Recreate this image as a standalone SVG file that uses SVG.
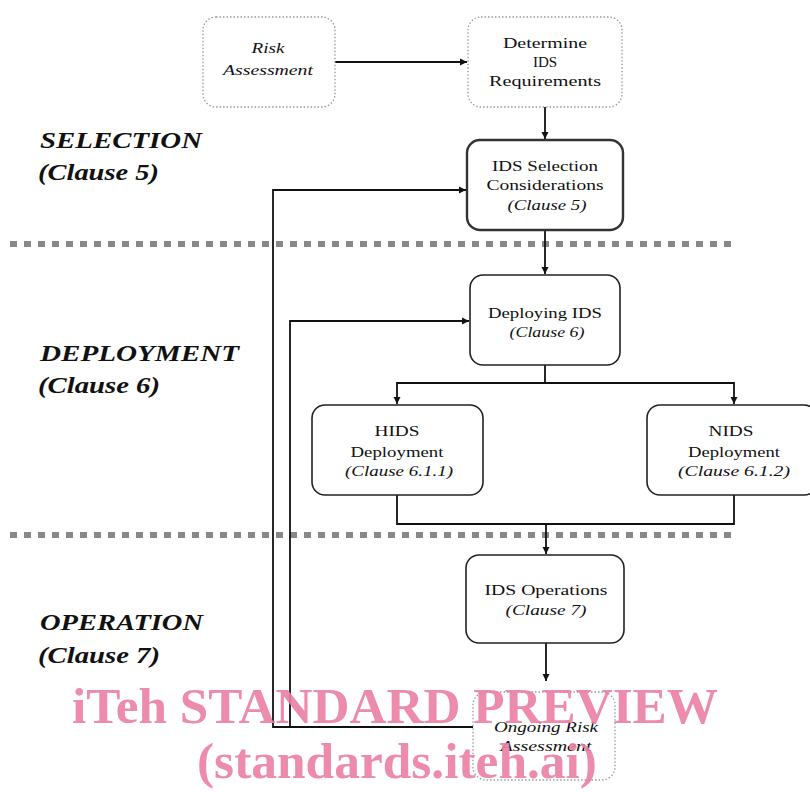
<svg xmlns="http://www.w3.org/2000/svg" width="810" height="792" viewBox="0 0 810 792">
<style>
.box{fill:#fff;stroke:#222;stroke-width:1.6}
.dot{fill:#fff;stroke:#999;stroke-width:1.3;stroke-dasharray:1.5 2}
.t{font-family:"Liberation Serif",serif;font-size:15px;fill:#111;text-anchor:middle}
.i{font-style:italic;font-size:14px}
.c{fill:none;stroke:#111;stroke-width:1.8}
.sep{stroke:#888;stroke-width:6;stroke-dasharray:7 7}
.lab{font-family:"Liberation Serif",serif;font-size:23px;font-weight:bold;font-style:italic;fill:#111}
.wm{font-family:"Liberation Serif",serif;font-size:51px;font-weight:bold;fill:#ea7fa3;opacity:0.9;text-anchor:middle}
</style>
<defs>
<marker id="a" viewBox="0 0 10 10" refX="10" refY="5" markerWidth="7" markerHeight="8" markerUnits="userSpaceOnUse" orient="auto"><path d="M0,0L10,5L0,10z" fill="#111"/></marker>
</defs>
<g id="separators">
<line class="sep" x1="10" y1="244" x2="731" y2="244"/>
<line class="sep" x1="10" y1="535" x2="731" y2="535"/>
</g>
<g id="labels">
<text class="lab" x="40" y="148" textLength="162" lengthAdjust="spacingAndGlyphs">SELECTION</text>
<text class="lab" x="38" y="180" textLength="121" lengthAdjust="spacingAndGlyphs">(Clause 5)</text>
<text class="lab" x="40" y="361" textLength="199" lengthAdjust="spacingAndGlyphs">DEPLOYMENT</text>
<text class="lab" x="38" y="393" textLength="122" lengthAdjust="spacingAndGlyphs">(Clause 6)</text>
<text class="lab" x="40" y="630" textLength="163" lengthAdjust="spacingAndGlyphs">OPERATION</text>
<text class="lab" x="38" y="663" textLength="122" lengthAdjust="spacingAndGlyphs">(Clause 7)</text>
</g>
<g id="connectors">
<path class="c" d="M335,62H467" marker-end="url(#a)"/>
<path class="c" d="M545,107V139" marker-end="url(#a)"/>
<path class="c" d="M545,230V274" marker-end="url(#a)"/>
<path class="c" d="M545,365V383H397V404" marker-end="url(#a)"/>
<path class="c" d="M545,383H734V404" marker-end="url(#a)"/>
<path class="c" d="M397,495V524H734V495"/>
<path class="c" d="M546,524V554" marker-end="url(#a)"/>
<path class="c" d="M546,643V681" marker-end="url(#a)"/>
<path class="c" d="M473,727H273V190H466" marker-end="url(#a)"/>
<path class="c" d="M290,727V321H469" marker-end="url(#a)"/>
</g>
<g id="risk">
<rect class="dot" x="203" y="17" width="132" height="90" rx="13"/>
<text class="t i" x="268" y="53" textLength="33" lengthAdjust="spacingAndGlyphs">Risk</text>
<text class="t i" x="268" y="75" textLength="90" lengthAdjust="spacingAndGlyphs">Assessment</text>
</g>
<g id="determine">
<rect class="dot" x="468" y="17" width="154" height="90" rx="13"/>
<text class="t" x="545" y="48" textLength="84" lengthAdjust="spacingAndGlyphs">Determine</text>
<text class="t" x="545" y="67">IDS</text>
<text class="t" x="545" y="86" textLength="112" lengthAdjust="spacingAndGlyphs">Requirements</text>
</g>
<g id="selection">
<rect class="box" x="467" y="140" width="156" height="90" rx="13" style="stroke-width:2.4;stroke:#333"/>
<text class="t" x="545" y="171" textLength="106" lengthAdjust="spacingAndGlyphs">IDS Selection</text>
<text class="t" x="545" y="190" textLength="117" lengthAdjust="spacingAndGlyphs">Considerations</text>
<text class="t i" x="547" y="210" textLength="79" lengthAdjust="spacingAndGlyphs">(Clause 5)</text>
</g>
<g id="deploying">
<rect class="box" x="470" y="275" width="150" height="90" rx="13"/>
<text class="t" x="545" y="318" textLength="114" lengthAdjust="spacingAndGlyphs">Deploying IDS</text>
<text class="t i" x="547" y="337" textLength="75" lengthAdjust="spacingAndGlyphs">(Clause 6)</text>
</g>
<g id="hids">
<rect class="box" x="312" y="405" width="171" height="90" rx="13"/>
<text class="t" x="397" y="436" textLength="45" lengthAdjust="spacingAndGlyphs">HIDS</text>
<text class="t" x="397" y="457" textLength="93" lengthAdjust="spacingAndGlyphs">Deployment</text>
<text class="t i" x="399" y="476" textLength="108" lengthAdjust="spacingAndGlyphs">(Clause 6.1.1)</text>
</g>
<g id="nids">
<rect class="box" x="647" y="405" width="170" height="90" rx="13"/>
<text class="t" x="731" y="436" textLength="45" lengthAdjust="spacingAndGlyphs">NIDS</text>
<text class="t" x="734" y="457" textLength="92" lengthAdjust="spacingAndGlyphs">Deployment</text>
<text class="t i" x="734" y="476" textLength="112" lengthAdjust="spacingAndGlyphs">(Clause 6.1.2)</text>
</g>
<g id="operations">
<rect class="box" x="466" y="555" width="158" height="88" rx="13"/>
<text class="t" x="546" y="595" textLength="123" lengthAdjust="spacingAndGlyphs">IDS Operations</text>
<text class="t i" x="546" y="615" textLength="81" lengthAdjust="spacingAndGlyphs">(Clause 7)</text>
</g>
<g id="ongoing">
<rect class="dot" x="473" y="692" width="142" height="88" rx="13"/>
<text class="t i" x="546" y="732" textLength="104" lengthAdjust="spacingAndGlyphs">Ongoing Risk</text>
<text class="t i" x="546" y="751" textLength="91" lengthAdjust="spacingAndGlyphs">Assessment</text>
</g>
<g id="watermark">
<text class="wm" x="395" y="723" textLength="646" lengthAdjust="spacingAndGlyphs">iTeh STANDARD PREVIEW</text>
<text class="wm" x="397" y="778" textLength="400" lengthAdjust="spacingAndGlyphs">(standards.iteh.ai)</text>
</g>
</svg>
